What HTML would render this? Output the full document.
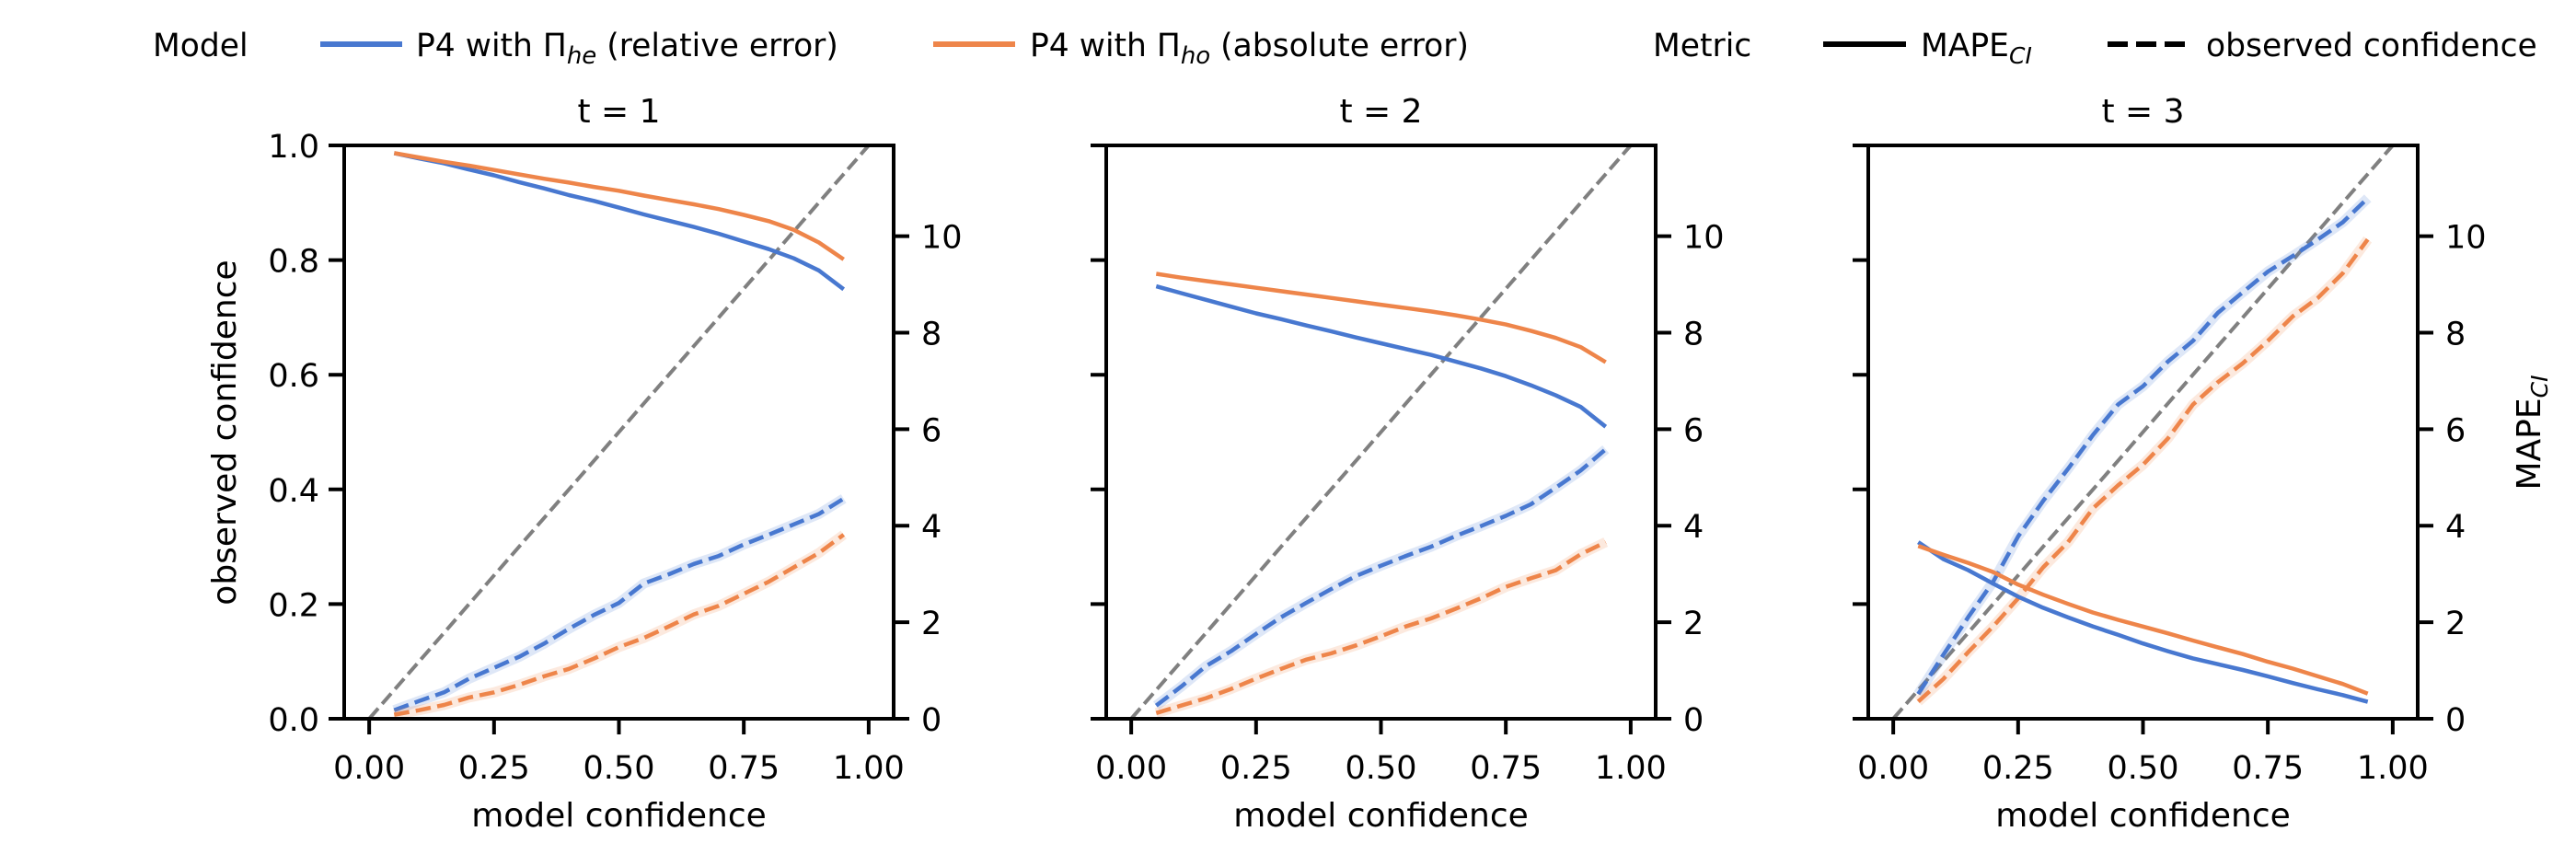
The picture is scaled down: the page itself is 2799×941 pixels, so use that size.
<!DOCTYPE html>
<html><head><meta charset="utf-8"><style>
html,body{margin:0;padding:0;background:#fff}
svg{display:block}
text{font-family:"DejaVu Sans","Liberation Sans",sans-serif;fill:#000}
</style></head><body>
<svg id="chart" width="2799" height="941" viewBox="0 0 2799 941" xmlns="http://www.w3.org/2000/svg">
<g id="legend">
  <text x="166" y="61" font-size="34.5">Model</text>
  <line x1="348" y1="48" x2="437" y2="48" stroke="#4878d0" stroke-width="6"/>
  <text x="452" y="61" font-size="34.5">P4 with Π<tspan font-style="italic" font-size="26" dy="8">he</tspan><tspan dy="-8"> (relative error)</tspan></text>
  <line x1="1014" y1="48" x2="1103" y2="48" stroke="#ee854a" stroke-width="6"/>
  <text x="1119" y="61" font-size="34.5">P4 with Π<tspan font-style="italic" font-size="26" dy="8">ho</tspan><tspan dy="-8"> (absolute error)</tspan></text>
  <text x="1796" y="61" font-size="34.5">Metric</text>
  <line x1="1981" y1="48" x2="2071" y2="48" stroke="#000" stroke-width="6"/>
  <text x="2087" y="61" font-size="34.5">MAPE<tspan font-style="italic" font-size="25" dy="8">CI</tspan></text>
  <line x1="2290" y1="48" x2="2383" y2="48" stroke="#000" stroke-width="6" stroke-dasharray="22,9"/>
  <text x="2397" y="61" font-size="34.5">observed confidence</text>
</g>
</svg>
<script>
const xVals = [0.05,0.10,0.15,0.20,0.25,0.30,0.35,0.40,0.45,0.50,0.55,0.60,0.65,0.70,0.75,0.80,0.85,0.90,0.95];
const panelTitles = ["t = 1","t = 2","t = 3"];
const xTickLabels = ["0.00","0.25","0.50","0.75","1.00"];
const leftTickLabels = ["0.0","0.2","0.4","0.6","0.8","1.0"];
const rightTickLabels = ["0","2","4","6","8","10"];
const mapeBlue = [
 [11.72,11.61,11.51,11.38,11.26,11.12,10.99,10.85,10.73,10.59,10.45,10.32,10.19,10.05,9.89,9.73,9.54,9.29,8.90],
 [8.96,8.82,8.68,8.54,8.40,8.28,8.15,8.03,7.90,7.78,7.66,7.54,7.40,7.26,7.10,6.91,6.70,6.46,6.05],
 [3.66,3.31,3.08,2.80,2.53,2.30,2.10,1.91,1.74,1.56,1.40,1.25,1.13,1.01,0.88,0.74,0.61,0.49,0.35]];
const mapeOrange = [
 [11.72,11.63,11.54,11.46,11.37,11.28,11.19,11.11,11.02,10.94,10.84,10.75,10.66,10.56,10.44,10.31,10.13,9.87,9.52],
 [9.22,9.14,9.07,9.00,8.93,8.86,8.79,8.72,8.65,8.58,8.51,8.44,8.36,8.27,8.17,8.04,7.89,7.70,7.39],
 [3.58,3.40,3.23,3.04,2.78,2.57,2.38,2.20,2.05,1.91,1.77,1.62,1.48,1.34,1.18,1.04,0.88,0.72,0.52]];
const obsBlue = [
 [0.015,0.031,0.046,0.070,0.089,0.108,0.131,0.157,0.181,0.202,0.236,0.252,0.270,0.284,0.304,0.321,0.339,0.357,0.384],
 [0.023,0.056,0.092,0.118,0.148,0.177,0.202,0.226,0.249,0.267,0.284,0.300,0.319,0.336,0.354,0.374,0.403,0.433,0.470],
 [0.043,0.111,0.177,0.239,0.318,0.380,0.436,0.495,0.548,0.580,0.623,0.659,0.708,0.744,0.780,0.807,0.836,0.866,0.908]];
const obsOrange = [
 [0.007,0.015,0.024,0.037,0.046,0.059,0.074,0.087,0.105,0.125,0.141,0.161,0.182,0.197,0.218,0.239,0.264,0.289,0.321],
 [0.010,0.023,0.036,0.052,0.070,0.087,0.103,0.114,0.128,0.144,0.161,0.175,0.192,0.210,0.230,0.245,0.259,0.287,0.308],
 [0.030,0.069,0.116,0.161,0.210,0.264,0.308,0.367,0.407,0.443,0.489,0.548,0.587,0.620,0.659,0.702,0.734,0.777,0.836]];

const NS="http://www.w3.org/2000/svg";
const svg=document.getElementById('chart');
const lefts=[374,1202,2030], W=597, TOP=158, BOT=781, RMAX=11.88;
const BLUE="#4878d0", ORANGE="#ee854a";
function mk(tag,attrs,parent){const e=document.createElementNS(NS,tag);for(const k in attrs)e.setAttribute(k,attrs[k]);(parent||svg).appendChild(e);return e;}
for(let p=0;p<3;p++){
  const L=lefts[p], R=L+W;
  const sx=v=>L+(v+0.05)/1.1*W;
  const syL=v=>BOT-v*(BOT-TOP);
  const syR=v=>BOT-v/RMAX*(BOT-TOP);
  const g=mk('g',{});
  
  
  const d=mk('line',{x1:sx(0),y1:syL(0),x2:sx(1),y2:syL(1),stroke:'#808080','stroke-width':4,'stroke-dasharray':'15,6.4'},g);
  
  
  const series=[[obsBlue[p],BLUE,syL,true,'observed-blue'],[obsOrange[p],ORANGE,syL,true,'observed-orange'],[mapeBlue[p],BLUE,syR,false,'mape-blue'],[mapeOrange[p],ORANGE,syR,false,'mape-orange']];
  for(const [vals,col,sy,dash,nm] of series){
    const pts=vals.map((v,i)=>sx(xVals[i]).toFixed(1)+','+sy(v).toFixed(1)).join(' ');
    if(dash){
      const band=mk('polyline',{points:pts,fill:'none',stroke:col,'stroke-opacity':0.18,'stroke-width':11,'stroke-linejoin':'round'},g);
      
      
    }
    const pl=mk('polyline',{points:pts,fill:'none',stroke:col,'stroke-width':4.5,'stroke-linejoin':'round'},g);
    if(dash) pl.setAttribute('stroke-dasharray','16.6,7.2');
    
    
  }
  const fr=mk('rect',{x:L,y:TOP,width:W,height:BOT-TOP,fill:'none',stroke:'#000','stroke-width':4},g);
  
  
  xTickLabels.forEach((lab,i)=>{
    const x=sx(i*0.25);
    mk('line',{x1:x,y1:BOT,x2:x,y2:BOT+17,stroke:'#000','stroke-width':4},g);
    const t=mk('text',{x:x,y:846,'font-size':35,'text-anchor':'middle'},g);
    t.textContent=lab;
    
    
  });
  const xl=mk('text',{x:L+W/2,y:898,'font-size':36,'text-anchor':'middle'},g);
  xl.textContent='model confidence';
  
  
  const tt=mk('text',{x:L+W/2,y:133,'font-size':36,'text-anchor':'middle'},g);
  tt.textContent=panelTitles[p];
  
  
  leftTickLabels.forEach((lab,i)=>{
    const y=syL(i*0.2);
    mk('line',{x1:L-17,y1:y,x2:L,y2:y,stroke:'#000','stroke-width':4},g);
    if(p===0){
      const t=mk('text',{x:L-27,y:y+13,'font-size':35,'text-anchor':'end'},g);
      t.textContent=lab;
      
      
    }
  });
  rightTickLabels.forEach((lab,i)=>{
    const y=syR(i*2);
    mk('line',{x1:R,y1:y,x2:R+17,y2:y,stroke:'#000','stroke-width':4},g);
    const t=mk('text',{x:R+30,y:y+13,'font-size':35,'text-anchor':'start'},g);
    t.textContent=lab;
    
    
  });
}
const yl=mk('text',{x:0,y:0,'font-size':36,'text-anchor':'middle',transform:'translate(256,470) rotate(-90)'});
yl.textContent='observed confidence';


const yr=mk('text',{x:0,y:0,'font-size':36,'text-anchor':'middle',transform:'translate(2760,470) rotate(-90)'});


yr.innerHTML='MAPE<tspan font-style="italic" font-size="25" dy="8">CI</tspan>';
</script>
</body></html>
